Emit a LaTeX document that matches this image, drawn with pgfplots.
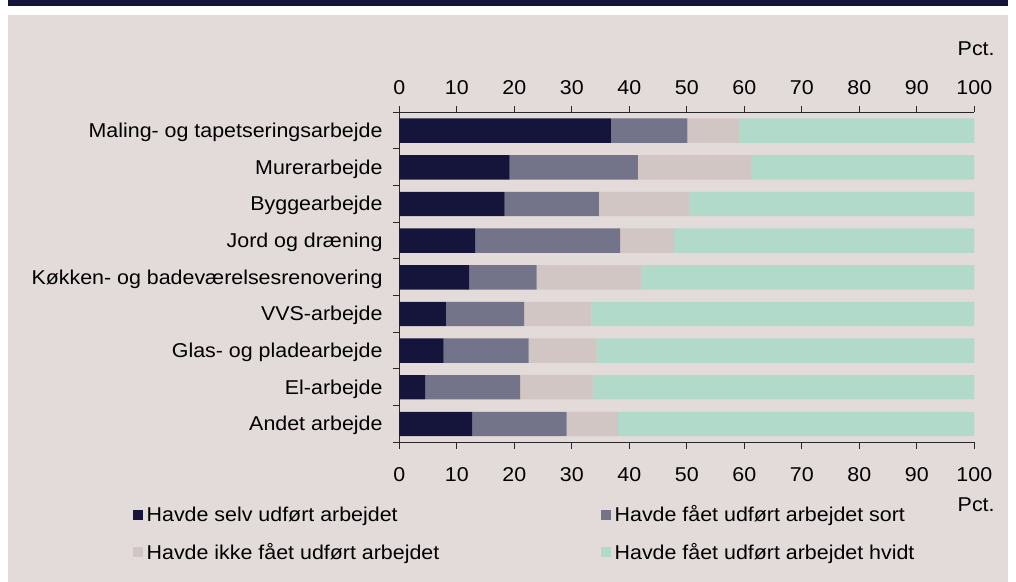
\documentclass[border=0pt]{standalone}
\usepackage{fontspec}
\setmainfont[FakeStretch=1.07]{Liberation Sans}
\usepackage{pgfplots}
\pgfplotsset{compat=1.18}
\definecolor{cA}{RGB}{21,21,60}
\definecolor{cB}{RGB}{115,115,138}
\definecolor{cC}{RGB}{209,198,196}
\definecolor{cD}{RGB}{178,218,203}
\definecolor{bg}{RGB}{227,219,218}
\definecolor{axc}{RGB}{40,40,40}
\begin{document}
\fontsize{10}{12}\selectfont
\begin{tikzpicture}[font=\fontsize{10}{12}\selectfont]
\useasboundingbox (0,0) rectangle (508pt,291pt);
\fill[white] (0,0) rectangle (508pt,291pt);
\fill[bg] (4pt,0) rectangle (504pt,283.5pt);
\fill[cA] (4pt,288pt) rectangle (504pt,291pt);
\pgfplotsset{common/.style={
 at={(199.65pt,69.85pt)}, anchor=south west,
 scale only axis, width=287.5pt, height=165pt,
 xmin=0, xmax=100, ymin=0.5, ymax=9.5,
 axis line style={axc, line width=0.5pt},
 tick style={axc, line width=0.5pt},
 tick align=outside, major tick length=3.25pt,
 xtick={0,10,...,100},
 /pgf/number format/assume math mode=true,
 tick label style={font=\fontsize{10}{12}\selectfont},
}}
\begin{axis}[common, clip=false,
 xbar stacked, bar width=12.2pt,
 axis x line*=bottom, axis y line*=left,
 xticklabel style={anchor=base, inner sep=0pt, yshift=-16.5pt},
 ytick={0.5,1.5,...,9.5}, yticklabels={},
 extra y ticks={1,...,9},
 extra y tick labels={Andet arbejde,El-arbejde,Glas- og pladearbejde,VVS-arbejde,Køkken- og badeværelsesrenovering,Jord og dræning,Byggearbejde,Murerarbejde,Maling- og tapetseringsarbejde},
 extra y tick style={major tick length=0pt, yticklabel style={anchor=base east, inner sep=0pt, xshift=-8.2pt, yshift=-3.5pt}},
 legend columns=2,
 legend cell align=left,
 legend image code/.code={\fill[#1] (0pt,-2.5pt) rectangle (5pt,2.5pt);},
 legend style={at={(axis description cs:-0.46365,-0.1863)}, anchor=north west, draw=none, fill=none, inner sep=0pt, outer sep=0pt, row sep=7.7pt, font=\fontsize{10}{12}\selectfont, nodes={text height=7pt, text depth=0pt}},
]
\addplot[fill=cA, draw=none] coordinates {(12.7,1) (4.5,2) (7.7,3) (8.1,4) (12.2,5) (13.2,6) (18.3,7) (19.2,8) (36.8,9)};
\addplot[fill=cB, draw=none] coordinates {(16.4,1) (16.5,2) (14.8,3) (13.6,4) (11.7,5) (25.2,6) (16.4,7) (22.3,8) (13.3,9)};
\addplot[fill=cC, draw=none] coordinates {(8.9,1) (12.6,2) (11.8,3) (11.7,4) (18.1,5) (9.4,6) (15.7,7) (19.7,8) (9.1,9)};
\addplot[fill=cD, draw=none] coordinates {(62.0,1) (66.4,2) (65.7,3) (66.6,4) (58.0,5) (52.2,6) (49.6,7) (38.8,8) (40.8,9)};
\legend{\makebox[225pt][l]{Havde selv udført arbejdet},Havde fået udført arbejdet sort,\makebox[225pt][l]{Havde ikke fået udført arbejdet},Havde fået udført arbejdet hvidt}
\node[anchor=east, inner sep=0pt] at (axis description cs:1.036,-0.19) {Pct.};
\node[anchor=east, inner sep=0pt] at (axis description cs:1.036,1.1939) {Pct.};
\end{axis}
\begin{axis}[common,
 axis x line*=top, axis y line=none,
 xticklabel style={anchor=base, inner sep=0pt, yshift=5.45pt},
]
\end{axis}
\end{tikzpicture}
\end{document}
